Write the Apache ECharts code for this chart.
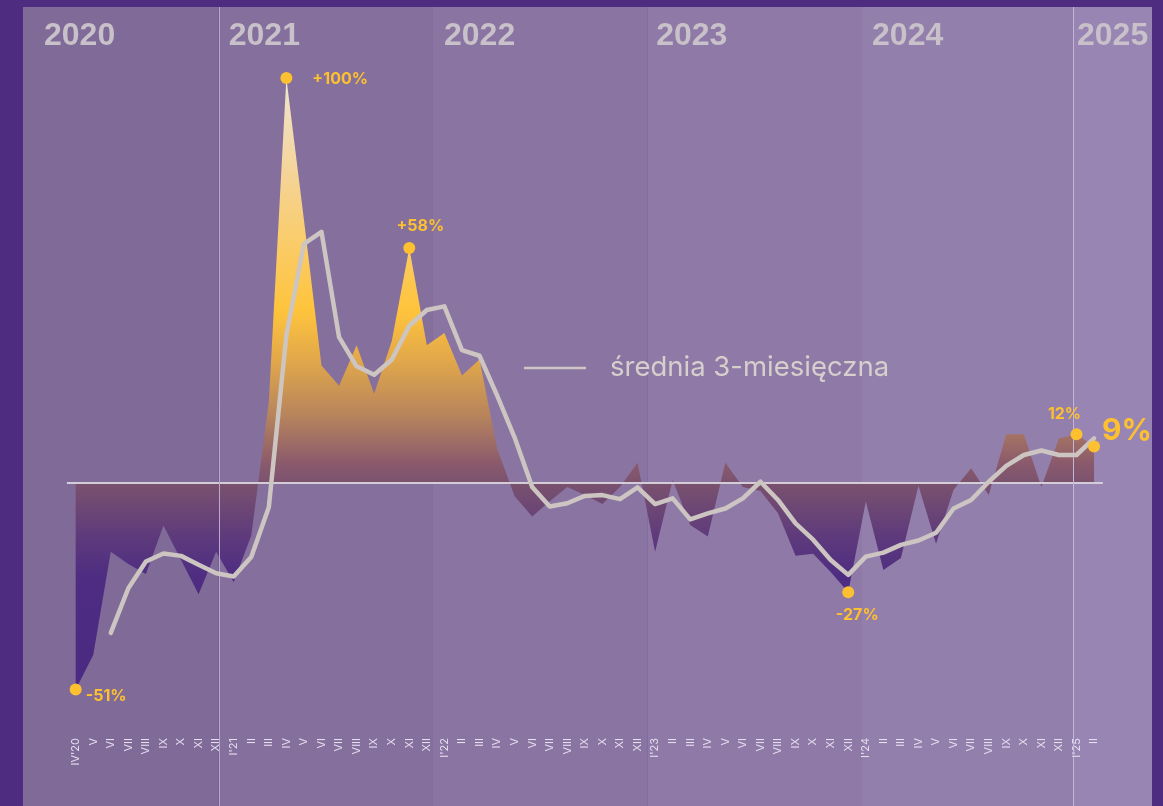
<!DOCTYPE html>
<html>
<head>
<meta charset="utf-8">
<script src="https://cdn.jsdelivr.net/npm/echarts@6/dist/echarts.min.js"></script>
<style>
  html, body { margin: 0; padding: 0; background: #4e2c80; }
  #chart { width: 1163px; height: 806px; }
</style>
</head>
<body>
<div id="chart"></div>
<script>
// months IV'20 .. II'25
const months = [
  "IV'20", 'V', 'VI', 'VII', 'VIII', 'IX', 'X', 'XI', 'XII',
  "I'21", 'II', 'III', 'IV', 'V', 'VI', 'VII', 'VIII', 'IX', 'X', 'XI', 'XII',
  "I'22", 'II', 'III', 'IV', 'V', 'VI', 'VII', 'VIII', 'IX', 'X', 'XI', 'XII',
  "I'23", 'II', 'III', 'IV', 'V', 'VI', 'VII', 'VIII', 'IX', 'X', 'XI', 'XII',
  "I'24", 'II', 'III', 'IV', 'V', 'VI', 'VII', 'VIII', 'IX', 'X', 'XI', 'XII',
  "I'25", 'II'
];
// monthly y/y change, %
const yoyChange = [
  -51, -42.5, -17, -20, -22.5, -10.5, -19, -27.5, -17,
  -24.5, -13, 20, 100, 65, 29, 24, 34, 22, 35, 58, 34,
  37, 26.5, 30.5, 8.5, -3.3, -8.3, -4.5, -1, -3, -5.2, -1, 5,
  -17, 0.7, -10.4, -13.2, 5, -1, -2, -7.5, -18, -17.5, -22, -27,
  -4.6, -21.5, -18.5, -0.7, -15, -1.7, 3.6, -3, 12, 12, -1, 11,
  12, 9
];
// 3-month moving average, %
const avg3m = [
  null, null, -37, -26, -19.4, -17.4, -18, -20.2, -22.3,
  -23.1, -18.3, -6, 36.5, 59, 62, 36, 28.8, 26.7, 30.4, 38.8, 42.7,
  43.6, 32.8, 31.4, 21.6, 11.2, -1, -5.8, -5, -3.2, -3, -4, -1.1,
  -5.2, -3.8, -9, -7.5, -6.3, -3.8, 0.3, -4.2, -10, -14, -19, -22.7,
  -18.2, -17.2, -15.3, -14.2, -12.3, -6.3, -4.2, 0.3, 4.2, 6.9, 8, 6.9,
  6.9, 11
];
// highlighted points: [month index, value, label]
const highlights = [
  [0, -51, '-51%'],
  [12, 100, '+100%'],
  [19, 58, '+58%'],
  [44, -27, '-27%'],
  [57, 12, '12%'],
  [58, 9, '9%']
];
const years = ['2020', '2021', '2022', '2023', '2024', '2025'];
const yearStart = [-3, 8.15, 20.35, 32.55, 44.73, 56.8];
const axisEnd = 61.3;
const avgName = 'średnia 3-miesięczna';

const chart = echarts.init(document.getElementById('chart'));

const bandColors = ['#7f6a98', '#856f9d', '#8a74a2', '#8e79a7', '#937fac', '#9885b3'];
const yearLabelOffset = [[16, 8], [5, 8], [6, 8], [4, 8], [6, 8], [-1, 8]];

const placement = {
  '-51%': { position: 'right', distance: 4, offset: [0, 7] },
  '+100%': { position: 'right', distance: 20, offset: [0, 1] },
  '+58%': { position: 'top', distance: 8, offset: [11, 0] },
  '-27%': { position: 'bottom', distance: 9, offset: [9, 0] },
  '12%': { position: 'top', distance: 6, offset: [-12, 0] },
  '9%': { position: 'right', distance: 2, offset: [0, -16], fontSize: 30 }
};

const bands = years.map((y, k) => [
  {
    name: y,
    xAxis: yearStart[k],
    itemStyle: { color: bandColors[k] },
    label: { offset: yearLabelOffset[k] }
  },
  { xAxis: k + 1 < years.length ? yearStart[k + 1] : axisEnd }
]);

const option = {
  animation: false,
  backgroundColor: 'transparent',
  grid: { left: 23, right: 11, top: 7, bottom: 0 },
  legend: {
    data: [avgName],
    left: 524,
    top: 354,
    padding: 0,
    icon: 'rect',
    itemWidth: 62,
    itemHeight: 2.5,
    selectedMode: false,
    textStyle: { color: '#d6cfcb', fontSize: 27.5, fontFamily: 'Inter', padding: [0, 0, 0, 19] }
  },
  xAxis: {
    type: 'value',
    min: -3,
    max: axisEnd,
    interval: 1,
    offset: -71,
    axisLine: { show: false },
    axisTick: { show: false },
    splitLine: { show: false },
    axisLabel: {
      rotate: 90,
      margin: 3,
      color: '#e6dff0',
      fontSize: 11,
      fontFamily: 'Inter',
      showMinLabel: true,
      showMaxLabel: true,
      formatter: (v) => (Number.isInteger(v) && v >= 0 && v < months.length ? months[v] : '')
    }
  },
  yAxis: { type: 'value', min: -79.75, max: 117.5, show: false },
  series: [
    {
      name: 'r/r',
      type: 'line',
      z: 2,
      symbol: 'none',
      lineStyle: { width: 0 },
      areaStyle: {
        opacity: 1,
        color: new echarts.graphic.LinearGradient(0, 0, 0, 1, [
          { offset: 0, color: '#efe6d2' },
          { offset: 0.15, color: '#f4d49a' },
          { offset: 0.38, color: '#ffc43c' },
          { offset: 0.46, color: '#e2a84a' },
          { offset: 0.55, color: '#b8855c' },
          { offset: 0.63, color: '#8a5a6c' },
          { offset: 0.67, color: '#77506f' },
          { offset: 0.75, color: '#5e3a7c' },
          { offset: 0.82, color: '#4d2c82' },
          { offset: 1, color: '#4a2a82' }
        ])
      },
      data: yoyChange.map((v, i) => [i, v]),
      markArea: {
        silent: true,
        z: 0,
        label: {
          show: true,
          position: 'insideTopLeft',
          color: '#c8c1c9',
          fontSize: 32,
          fontWeight: 'bold',
          fontFamily: 'Liberation Sans'
        },
        data: bands
      },
      markLine: {
        silent: true,
        symbol: 'none',
        z: 3,
        label: { show: false },
        data: [
          [
            { coord: [-0.5, 0], lineStyle: { color: '#d4ccd6', width: 2, type: 'solid' } },
            { coord: [months.length - 0.5, 0] }
          ],
          { xAxis: yearStart[1], lineStyle: { color: '#b9a9cc', width: 1, type: 'solid' } },
          { xAxis: yearStart[5], lineStyle: { color: '#c4b6d6', width: 1, type: 'solid' } }
        ]
      }
    },
    {
      name: avgName,
      type: 'line',
      z: 4,
      color: '#cdc5c2',
      symbol: 'none',
      connectNulls: false,
      lineStyle: { color: '#cdc5c2', width: 4.5, cap: 'round', join: 'round' },
      data: avg3m.map((v, i) => [i, v])
    },
    {
      name: 'highlights',
      type: 'scatter',
      z: 5,
      symbolSize: 12,
      itemStyle: { color: '#fdc030', opacity: 1 },
      label: {
        show: true,
        color: '#fdc030',
        fontSize: 16,
        fontWeight: 'bold',
        fontFamily: 'Inter'
      },
      data: highlights.map((h) => ({
        value: [h[0], h[1]],
        label: Object.assign({ formatter: h[2] }, placement[h[2]])
      }))
    }
  ]
};

chart.setOption(option);
</script>
</body>
</html>
